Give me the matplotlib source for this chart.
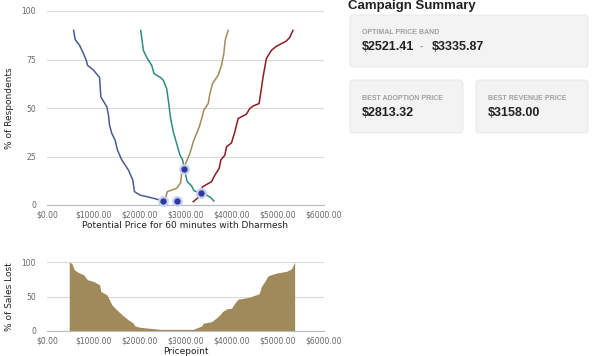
import matplotlib
matplotlib.use("Agg")
import matplotlib.pyplot as plt
from matplotlib.patches import FancyBboxPatch
from matplotlib.ticker import FuncFormatter

# too cheap
cheap_x = [576, 612, 706, 792, 850, 878, 1008, 1138, 1152, 1166, 1296, 1332, 1354, 1404, 1476,
           1526, 1620, 1764, 1858, 1894, 2016, 2232, 2506]
cheap_y = [90, 85.2, 82.3, 78, 74.6, 72, 69.5, 65.7, 60.9, 55.7, 50.6, 46.3, 41.2, 36.9, 33.4,
           28.3, 23.2, 18, 12.9, 6.9, 5.1, 3.9, 2.2]
# not a bargain
notbarg_x = [2030, 2088, 2160, 2268, 2318, 2462, 2520, 2592, 2628, 2678, 2736, 2808, 2880, 2938,
             2974, 3038, 3132, 3182, 3312, 3456, 3542, 3614]
notbarg_y = [90, 79.7, 76, 72, 67.7, 65.7, 64.3, 60, 54, 44.6, 37.7, 31.7, 25.7, 23.2,
             18.4, 12, 9.8, 7.4, 6, 5.1, 3.9, 2.1]
# bargain
barg_x = [2570, 2606, 2808, 2894, 2916, 2988, 3096, 3168, 3254, 3298, 3355, 3398, 3492, 3528,
          3586, 3708, 3780, 3830, 3859, 3924]
barg_y = [3.9, 6.9, 8.6, 11.5, 16.3, 20.6, 26.6, 32.6, 37.7, 40.3, 44.9, 48.9, 52.3, 57.4,
          62.6, 66.9, 72, 78, 84.9, 90]
# too expensive
exp_x = [3168, 3298, 3370, 3564, 3636, 3730, 3766, 3852, 3888, 3996, 4068, 4140, 4320, 4392,
         4464, 4594, 4644, 4680, 4752, 4860, 4968, 5184, 5256, 5328]
exp_y = [1.7, 4.3, 9.4, 12, 15.4, 18.9, 23.2, 25.7, 30, 32, 37.7, 44.6, 46.8, 49.7,
         51, 52.3, 60, 66, 75.5, 79.7, 81.8, 84.5, 86.3, 90]
# intersections
pts_x = [2521.41, 2813.32, 2975, 3335.87]
pts_y = [2.2, 2.2, 18.4, 6.4]

# % of sales lost
lost_x = [482, 540, 590, 662, 792, 878, 1008, 1138, 1166, 1296, 1354, 1404, 1512, 1656, 1764,
          1858, 1908, 2016, 2232, 2448, 2592, 3168, 3276, 3348, 3384, 3564, 3658, 3744, 3802,
          3888, 3996, 4068, 4140, 4392, 4464, 4594, 4644, 4716, 4788, 4968, 5184, 5292, 5364]
lost_y = [100, 97.6, 88.8, 85.4, 81.6, 74.3, 71.8, 67, 57.3, 52.4, 45.1, 37.9, 30.6, 21.8, 16,
          12.1, 7.3, 5.3, 3.9, 2.4, 2.4, 2.4, 5.3, 7.3, 11.2, 13.6, 18.4, 23.3, 28.2,
          32, 33, 40.3, 46.1, 49, 51, 53.9, 64.6, 71.8, 80, 84, 86.4, 89.8, 99.5]

xticks = [0, 1000, 2000, 3000, 4000, 5000, 6000]
tick_col = "#666666"
grid_col = "#d9d9d9"


def money(v, p):
    return "$%.2f" % v


def style(ax, yticks):
    ax.set_xlim(0, 6000)
    ax.set_ylim(0, 100)
    ax.set_xticks(xticks)
    ax.set_yticks(yticks)
    ax.xaxis.set_major_formatter(FuncFormatter(money))
    ax.tick_params(length=0, labelsize=5.5, colors=tick_col)
    ax.tick_params(axis="x", pad=4)
    ax.tick_params(axis="y", pad=8)
    for s in ["top", "right", "left"]:
        ax.spines[s].set_visible(False)
    ax.spines["bottom"].set_color("#bbbbbb")
    ax.spines["bottom"].set_linewidth(0.8)
    ax.grid(axis="y", color=grid_col, linewidth=0.8)
    ax.set_axisbelow(True)


fig = plt.figure(figsize=(6, 3.56), dpi=100)

ax1 = fig.add_axes([47 / 600, 1 - 205 / 356, 277 / 600, 194 / 356])
style(ax1, [0, 25, 50, 75, 100])
ax1.plot(cheap_x, cheap_y, color="#4a5a96", lw=1.1)
ax1.plot(notbarg_x, notbarg_y, color="#2e8c80", lw=1.1)
ax1.plot(barg_x, barg_y, color="#a28c5c", lw=1.1)
ax1.plot(exp_x, exp_y, color="#8a1c22", lw=1.1)
ax1.scatter(pts_x, pts_y, s=38, color="#2b3a9c", edgecolors="#c8d0ee", linewidths=1.6, zorder=5,
            clip_on=False)
ax1.set_ylabel("% of Respondents", fontsize=6.5, color="#222222", labelpad=5)
ax1.set_xlabel("Potential Price for 60 minutes with Dharmesh", fontsize=6.5, color="#222222", labelpad=1)

ax2 = fig.add_axes([47 / 600, 1 - 331 / 356, 277 / 600, 69 / 356])
style(ax2, [0, 50, 100])
ax2.fill_between(lost_x, lost_y, 0, color="#a08a5c", lw=0)
ax2.set_ylabel("% of Sales Lost", fontsize=6.5, color="#222222", labelpad=5)
ax2.set_xlabel("Pricepoint", fontsize=6.5, color="#222222", labelpad=1)

# summary panel in pixel coords
ov = fig.add_axes([0, 0, 1, 1], zorder=-1)
ov.set_xlim(0, 600)
ov.set_ylim(356, 0)
ov.axis("off")

boxes = [(350, 15, 238, 52), (350, 80, 113, 53), (476, 80, 112, 53)]
for bx, by, bw, bh in boxes:
    ov.add_patch(FancyBboxPatch((bx, by), bw, bh, boxstyle="round,pad=0,rounding_size=3",
                                facecolor="#f3f3f3", edgecolor="#e6e6e6", linewidth=0.6))

bold = dict(family=["Liberation Sans", "DejaVu Sans"], fontweight="bold")
ov.text(348, 6, "Campaign Summary", fontsize=9.5, color="#222222", va="center", **bold)
ov.text(362, 33, "OPTIMAL PRICE BAND", fontsize=5, color="#a0a0a0", va="center", **bold)
ov.text(362, 47, "$2521.41", fontsize=9, color="#222222", va="center", **bold)
ov.text(421, 47, "-", fontsize=7, color="#999999", va="center", ha="center", **bold)
ov.text(432, 47, "$3335.87", fontsize=9, color="#222222", va="center", **bold)
ov.text(362, 99, "BEST ADOPTION PRICE", fontsize=5, color="#a0a0a0", va="center", **bold)
ov.text(362, 113, "$2813.32", fontsize=9, color="#222222", va="center", **bold)
ov.text(488, 99, "BEST REVENUE PRICE", fontsize=5, color="#a0a0a0", va="center", **bold)
ov.text(488, 113, "$3158.00", fontsize=9, color="#222222", va="center", **bold)

fig.savefig("out.png", dpi=100, facecolor="white")
